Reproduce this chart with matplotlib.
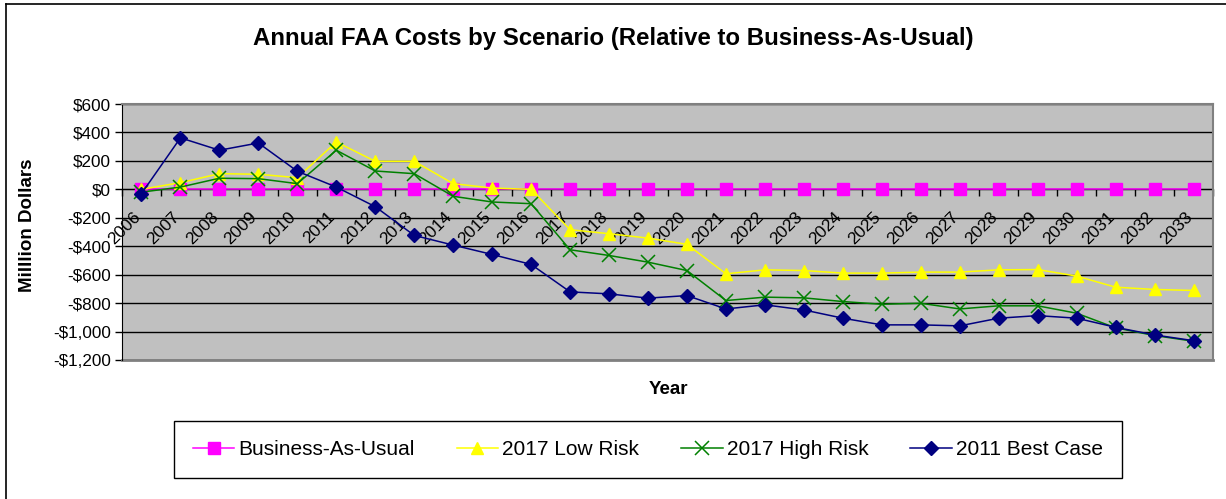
import matplotlib
matplotlib.use('Agg')
import matplotlib.pyplot as plt
from matplotlib.lines import Line2D
from matplotlib.ticker import FuncFormatter, MultipleLocator

plt.rcParams['font.family'] = ['Liberation Sans', 'DejaVu Sans']

years = [str(y) for y in range(2006, 2034)]

business_as_usual = [0] * 28
low_risk_2017 = [0, 47, 110, 106, 82, 333, 197, 197, 40, 9, 0, -284, -312, -343,
                 -387, -594, -566, -571, -589, -589, -582, -582, -566, -564,
                 -610, -688, -704, -711]
high_risk_2017 = [-20, 16, 78, 75, 40, 275, 129, 110, -49, -89, -101, -425, -465,
                  -512, -571, -782, -758, -763, -789, -808, -801, -841, -819,
                  -819, -871, -974, -1028, -1068]
best_case_2011 = [-30, 362, 275, 326, 127, 16, -122, -324, -392, -458, -528, -721,
                  -735, -765, -747, -841, -812, -848, -906, -953, -953, -960,
                  -906, -888, -906, -970, -1024, -1064]

W, H = 1226, 499
fig = plt.figure(figsize=(W / 100, H / 100), dpi=100)

# plot area in pixel coordinates of the original chart
left, right, top, bottom = 122, 1213, 104, 360
ax = fig.add_axes([left / W, 1 - bottom / H, (right - left) / W, (bottom - top) / H])
ax.set_facecolor('#C0C0C0')

x = list(range(len(years)))
ax.plot(x, business_as_usual, color='#FF00FF', lw=1.1, marker='s', ms=8,
        mec='#FF00FF', label='Business-As-Usual', zorder=3)
ax.plot(x, low_risk_2017, color='#FFFF00', lw=1.1, marker='^', ms=9,
        mec='#FFFF00', label='2017 Low Risk', zorder=4)
ax.plot(x, high_risk_2017, color='#008000', lw=1.1, marker='x', ms=9.5,
        mew=1.1, label='2017 High Risk', zorder=5)
ax.plot(x, best_case_2011, color='#000080', lw=1.1, marker='D', ms=7,
        mec='#000080', label='2011 Best Case', zorder=6)

ax.set_xlim(-0.5, len(years) - 0.5)
ax.set_ylim(-1200, 600)
ax.yaxis.set_major_locator(MultipleLocator(200))


def dollars(v, pos):
    v = int(round(v))
    if v < 0:
        return '-${:,}'.format(-v)
    return '${:,}'.format(v)


ax.yaxis.set_major_formatter(FuncFormatter(dollars))
ax.grid(axis='y', color='black', lw=1)
ax.set_axisbelow(True)
ax.tick_params(axis='y', direction='out', length=5, width=1, pad=3,
               labelsize=12.3, color='black')

# category axis crosses at zero
ax.spines['bottom'].set_position(('data', 0))
ax.spines['bottom'].set_color('black')
ax.spines['bottom'].set_zorder(2)
ax.spines['left'].set_color('black')
for s in ['top', 'right']:
    ax.spines[s].set_color('#808080')
    ax.spines[s].set_linewidth(1.5)
ax.set_xticks([i - 0.5 for i in range(len(years) + 1)])
ax.set_xticklabels([])
ax.tick_params(axis='x', direction='out', length=5, width=1, color='black')
# grey frame of the plot area bottom
ax.axhline(-1200, color='#808080', lw=2, clip_on=False)

for i, yr in enumerate(years):
    ax.annotate(yr, xy=(i, 0), xycoords='data', xytext=(-9, -20),
                textcoords='offset pixels', ha='right', va='top', rotation=45,
                rotation_mode='anchor', fontsize=12.5)

fig.text(613 / W, 1 - 38 / H, 'Annual FAA Costs by Scenario (Relative to Business-As-Usual)',
         ha='center', va='center', fontsize=17.3, fontweight='bold')
fig.text(28 / W, 1 - 225 / H, 'Milllion Dollars', ha='center', va='center',
         rotation=90, fontsize=13.5, fontweight='bold')
fig.text(668 / W, 1 - 390 / H, 'Year', ha='center', va='center',
         fontsize=13.5, fontweight='bold')

leg = fig.legend(loc='center', bbox_to_anchor=(648 / W, 1 - 449.5 / H), ncol=4,
                 fontsize=15, handlelength=2.0, handletextpad=0.2,
                 columnspacing=2.0, borderpad=0.9, fancybox=False,
                 framealpha=1, edgecolor='black')
leg.get_frame().set_linewidth(1)

# outer chart border (left and top visible)
fig.add_artist(Line2D([6 / W, 6 / W], [0, 1 - 4 / H], color='black', lw=1.2,
                      transform=fig.transFigure))
fig.add_artist(Line2D([6 / W, 1], [1 - 4 / H, 1 - 4 / H], color='black', lw=1.2,
                      transform=fig.transFigure))

fig.savefig('out.png', dpi=100)
